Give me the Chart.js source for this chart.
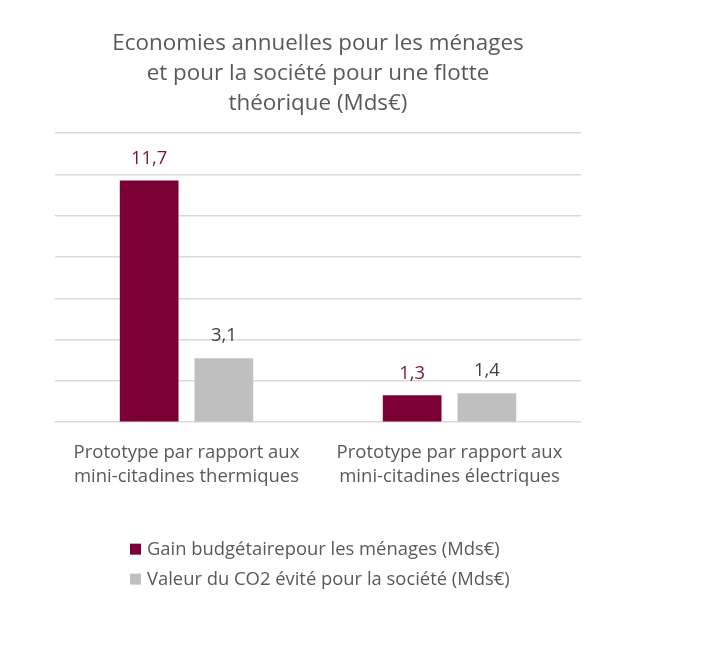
<!DOCTYPE html>
<html>
<head>
<meta charset="utf-8">
<script src="https://cdn.jsdelivr.net/npm/chart.js@4.4.1/dist/chart.umd.min.js"></script>
<style>
  html, body { margin: 0; padding: 0; background: #ffffff; }
  #wrap { width: 703px; height: 667px; position: relative; }
</style>
</head>
<body>
<div id="wrap"><canvas id="c"></canvas></div>
<script>
const titleLines = ['Economies annuelles pour les ménages', 'et pour la société pour une flotte', 'théorique (Mds€)'];
const categories = [
  ['Prototype par rapport aux', 'mini-citadines thermiques'],
  ['Prototype par rapport aux', 'mini-citadines électriques']
];
const seriesNames = ['Gain budgétairepour les ménages (Mds€)', 'Valeur du CO2 évité pour la société (Mds€)'];
const gainMenages = [11.7, 1.3];
const valeurCO2 = [3.1, 1.4];

const FONT = "'Open Sans', sans-serif";
const barColors = ['#7a0036', '#bfbfbf'];
const labelColors = ['#76143f', '#404040'];

const dataLabels = {
  id: 'dataLabels',
  afterDatasetsDraw(chart) {
    const ctx = chart.ctx;
    ctx.save();
    ctx.font = "18.4px " + FONT;
    ctx.textAlign = 'center';
    ctx.textBaseline = 'middle';
    chart.data.datasets.forEach((ds, i) => {
      const meta = chart.getDatasetMeta(i);
      meta.data.forEach((el, j) => {
        ctx.fillStyle = labelColors[i];
        ctx.fillText(ds.data[j].toFixed(1).replace('.', ','), el.x, el.y - 22);
      });
    });
    ctx.restore();
  }
};

const customLegend = {
  id: 'customLegend',
  afterDraw(chart) {
    const ctx = chart.ctx;
    const a = chart.chartArea;
    ctx.save();
    ctx.font = "18.4px " + FONT;
    ctx.textAlign = 'left';
    ctx.textBaseline = 'middle';
    chart.data.datasets.forEach((ds, i) => {
      const x = a.left + 75;
      const y = a.bottom + 127 + i * 30;
      ctx.fillStyle = ds.backgroundColor;
      ctx.fillRect(x, y - 5.5, 11, 11);
      ctx.fillStyle = '#595959';
      ctx.fillText(ds.label, x + 17, y + 1);
    });
    ctx.restore();
  }
};

new Chart(document.getElementById('c'), {
  type: 'bar',
  data: {
    labels: categories,
    datasets: [
      { label: seriesNames[0], data: gainMenages, backgroundColor: barColors[0] },
      { label: seriesNames[1], data: valeurCO2, backgroundColor: barColors[1] }
    ]
  },
  options: {
    responsive: true,
    maintainAspectRatio: false,
    animation: false,
    devicePixelRatio: 1,
    categoryPercentage: 0.568,
    barPercentage: 0.786,
    layout: { padding: { left: 55, right: 122, top: 29, bottom: 168 } },
    plugins: {
      legend: { display: false },
      tooltip: { enabled: false },
      title: {
        display: true,
        text: titleLines,
        color: '#595959',
        font: { family: FONT, size: 22.4, weight: 'normal', lineHeight: 1.34 },
        padding: { top: 0, bottom: 14 }
      }
    },
    scales: {
      x: {
        grid: { display: false },
        border: { display: false },
        ticks: {
          color: '#595959',
          font: { family: FONT, size: 18.5, lineHeight: 1.32 },
          padding: 10,
          maxRotation: 0
        }
      },
      y: {
        min: 0, max: 14,
        ticks: { display: false, stepSize: 2 },
        grid: { color: '#d9d9d9', lineWidth: 1.5, drawTicks: false },
        border: { display: false }
      }
    }
  },
  plugins: [dataLabels, customLegend]
});
</script>
</body>
</html>
